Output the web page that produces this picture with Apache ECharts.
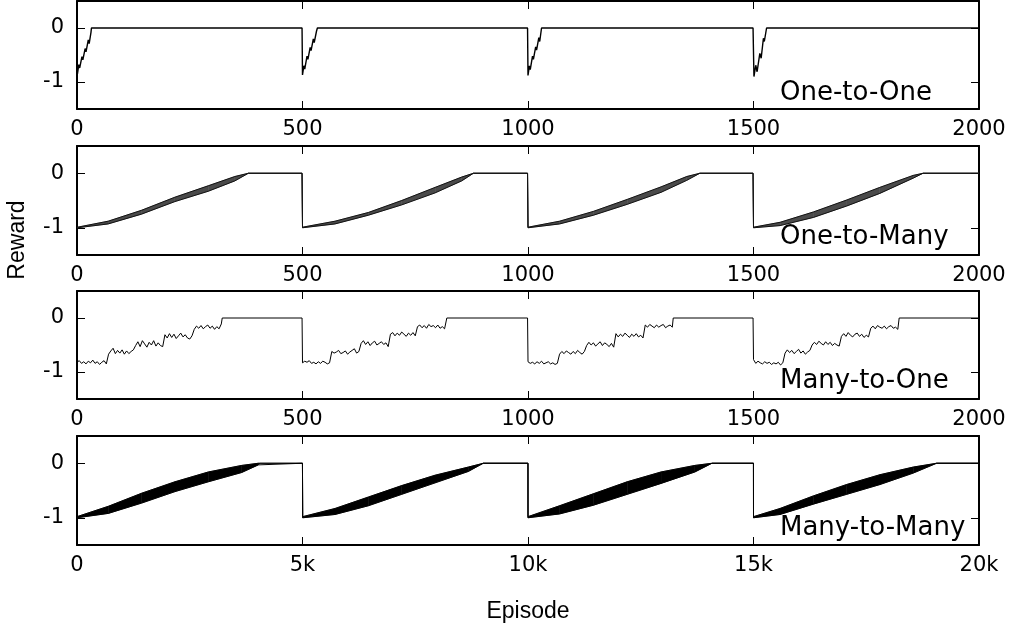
<!DOCTYPE html>
<html>
<head>
<meta charset="utf-8">
<style>
  html, body { margin: 0; padding: 0; background: #fff; }
  #chart { width: 1014px; height: 636px; }
</style>
<script src="https://cdn.jsdelivr.net/npm/echarts@6/dist/echarts.min.js"></script>
</head>
<body>
<div id="chart"></div>
<script>
// panel labels
const panelNames = ["One-to-One", "One-to-Many", "Many-to-One", "Many-to-Many"];

// One-to-One: [episode, reward] per 500-episode cycle
const o2oC1 = [[1,-0.85],[4,-0.68],[6,-0.74],[11,-0.53],[13,-0.59],[18,-0.38],[20,-0.44],[25,-0.22],[27,-0.29],[31,-0.08],[32,0],[499,0]];
const o2oC2 = [[500,-0.87],[503,-0.7],[505,-0.76],[510,-0.52],[512,-0.58],[517,-0.36],[519,-0.42],[524,-0.2],[526,-0.27],[531,-0.06],[533,0],[999,0]];
const o2oC3 = [[1000,-0.88],[1003,-0.7],[1005,-0.77],[1010,-0.52],[1012,-0.58],[1017,-0.35],[1019,-0.41],[1024,-0.18],[1026,-0.25],[1030,0],[1499,0]];
const o2oC4 = [[1501,-0.9],[1505,-0.69],[1508,-0.81],[1514,-0.47],[1517,-0.56],[1522,-0.19],[1524,-0.25],[1529,0],[2000,0]];

// One-to-Many: [episode, low edge, high edge] of the oscillating band
const o2mC1 = [[1,-1.0,-0.99],[69,-0.93,-0.88],[143,-0.75,-0.68],[217,-0.52,-0.44],[291,-0.33,-0.23],[350,-0.14,-0.06],[380,0,0],[499,0,0]];
const o2mC2 = [[500,-1.0,-0.99],[572,-0.93,-0.88],[646,-0.77,-0.72],[720,-0.58,-0.5],[794,-0.36,-0.26],[853,-0.14,-0.07],[879,0,0],[999,0,0]];
const o2mC3 = [[1000,-1.0,-0.99],[1070,-0.93,-0.88],[1145,-0.77,-0.7],[1220,-0.57,-0.48],[1295,-0.35,-0.25],[1352,-0.13,-0.06],[1381,0,0],[1499,0,0]];
const o2mC4 = [[1500,-1.0,-0.99],[1559,-0.96,-0.9],[1633,-0.81,-0.71],[1707,-0.6,-0.49],[1780,-0.37,-0.26],[1854,-0.09,-0.04],[1876,0,0],[2000,0,0]];

// Many-to-One: rewards every 5 episodes from the cycle start, then flat 0
const m2oStep = 5;
const m2oStarts = [0, 500, 1000, 1500];
const m2oZeroAt = [322, 820, 1322, 1823];
const m2oC1 = [-0.82,-0.79,-0.84,-0.81,-0.85,-0.80,-0.83,-0.78,-0.84,-0.81,-0.86,-0.82,-0.79,-0.85,
  -0.67,-0.61,-0.56,-0.66,-0.60,-0.65,-0.59,-0.67,-0.61,-0.66,-0.62,-0.59,
  -0.51,-0.44,-0.53,-0.42,-0.48,-0.54,-0.45,-0.50,-0.42,-0.52,-0.46,-0.51,-0.53,
  -0.31,-0.37,-0.29,-0.36,-0.30,-0.38,-0.33,-0.28,-0.35,-0.31,-0.37,-0.39,-0.33,
  -0.21,-0.15,-0.19,-0.14,-0.20,-0.16,-0.13,-0.19,-0.15,-0.21,-0.16,-0.20,-0.11];
const m2oC2 = [-0.83,-0.80,-0.82,-0.79,-0.84,-0.82,-0.85,-0.81,-0.84,-0.80,-0.82,-0.85,-0.83,
  -0.62,-0.65,-0.63,-0.60,-0.66,-0.64,-0.61,-0.67,-0.63,-0.60,-0.57,-0.65,-0.62,
  -0.47,-0.42,-0.49,-0.44,-0.51,-0.46,-0.43,-0.50,-0.47,-0.44,-0.49,-0.46,-0.53,
  -0.30,-0.27,-0.33,-0.28,-0.32,-0.26,-0.30,-0.34,-0.28,-0.32,-0.27,-0.33,
  -0.16,-0.13,-0.18,-0.14,-0.19,-0.12,-0.16,-0.14,-0.18,-0.13,-0.19,-0.16,-0.20];
const m2oC3 = [-0.81,-0.84,-0.82,-0.85,-0.81,-0.84,-0.80,-0.85,-0.83,-0.81,-0.85,-0.83,-0.86,-0.84,
  -0.67,-0.62,-0.66,-0.61,-0.64,-0.67,-0.62,-0.66,-0.60,-0.64,-0.67,-0.62,
  -0.51,-0.45,-0.50,-0.46,-0.52,-0.48,-0.44,-0.51,-0.46,-0.49,-0.53,-0.47,-0.54,
  -0.29,-0.35,-0.30,-0.34,-0.28,-0.32,-0.36,-0.30,-0.34,-0.29,-0.35,-0.32,-0.37,
  -0.13,-0.17,-0.12,-0.15,-0.18,-0.13,-0.17,-0.14,-0.12,-0.18,-0.15,-0.13,-0.17];
const m2oC4 = [-0.77,-0.84,-0.80,-0.83,-0.85,-0.81,-0.84,-0.82,-0.86,-0.83,-0.85,-0.82,-0.87,-0.83,
  -0.65,-0.59,-0.64,-0.60,-0.66,-0.62,-0.58,-0.65,-0.61,-0.67,-0.63,-0.60,
  -0.50,-0.45,-0.49,-0.43,-0.47,-0.50,-0.44,-0.49,-0.45,-0.51,-0.47,-0.50,-0.52,
  -0.34,-0.29,-0.34,-0.27,-0.32,-0.35,-0.30,-0.28,-0.34,-0.30,-0.36,-0.32,-0.35,
  -0.19,-0.15,-0.20,-0.14,-0.17,-0.19,-0.15,-0.20,-0.16,-0.14,-0.19,-0.17,-0.21];

// Many-to-Many: [episode, low edge, high edge] of the dense band
const m2mC1 = [[0,-1.0,-0.98],[695,-0.92,-0.79],[1434,-0.73,-0.55],[2173,-0.52,-0.34],[2912,-0.34,-0.16],[3651,-0.17,-0.04],[4020,-0.03,0],[4060,0,0],[4999,0,0]];
const m2mC2 = [[5004,-1.0,-0.98],[5721,-0.94,-0.83],[6460,-0.78,-0.62],[7199,-0.57,-0.41],[7938,-0.36,-0.22],[8677,-0.15,-0.07],[9009,0,0],[9999,0,0]];
const m2mC3 = [[10000,-1.0,-0.98],[10700,-0.93,-0.78],[11450,-0.77,-0.56],[12200,-0.57,-0.34],[12950,-0.37,-0.16],[13700,-0.16,-0.04],[14080,0,0],[14999,0,0]];
const m2mC4 = [[15000,-1.0,-0.98],[15588,-0.94,-0.83],[16326,-0.75,-0.6],[17066,-0.57,-0.39],[17805,-0.39,-0.21],[18543,-0.18,-0.07],[19060,0,0],[20000,0,0]];

const FONT = "DejaVu Sans";
const grids = [
  { left: 77, right: 35, top: 1, height: 108 },
  { left: 77, right: 35, top: 146, height: 109 },
  { left: 77, right: 35, top: 291, height: 108 },
  { left: 77, right: 35, top: 436, height: 109 },
];
const xMax = [2000, 2000, 2000, 20000];
const xStep = [500, 500, 500, 5000];

function plainFormat(v) {
  return String(v);
}
function kFormat(v) {
  return v === 0 ? "0" : v / 1000 + "k";
}

const xAxes = [];
const yAxes = [];
grids.forEach((g, i) => {
  const base = {
    type: "value", gridIndex: i, min: 0, max: xMax[i], interval: xStep[i],
    axisLine: { show: true, onZero: false, lineStyle: { color: "#000", width: 2 } },
    axisTick: { show: true, inside: true, length: 8, lineStyle: { color: "#000", width: 1 } },
    splitLine: { show: false },
  };
  xAxes.push(Object.assign({}, base, {
    position: "bottom",
    axisLabel: { color: "#000", fontSize: 21, fontFamily: FONT, margin: 10,
      formatter: i === 3 ? kFormat : plainFormat },
  }));
  xAxes.push(Object.assign({}, base, { position: "top", axisLabel: { show: false } }));
  const ybase = {
    type: "value", gridIndex: i, min: -1.5, max: 0.5,
    axisLine: { show: true, onZero: false, lineStyle: { color: "#000", width: 2 } },
    axisTick: { show: true, inside: true, length: 8, customValues: [-1, 0], lineStyle: { color: "#000", width: 1 } },
    splitLine: { show: false },
  };
  yAxes.push(Object.assign({}, ybase, {
    position: "left",
    axisLabel: { color: "#000", fontSize: 21, fontFamily: FONT, margin: 13, customValues: [-1, 0] },
  }));
  yAxes.push(Object.assign({}, ybase, { position: "right", axisLabel: { show: false } }));
});

function lineSeries(i, data, color, width) {
  return {
    type: "line", xAxisIndex: i * 2, yAxisIndex: i * 2, data: data,
    symbol: "none", lineStyle: { color: color || "#000", width: width || 1 }, silent: true,
  };
}

// band = filled quads between low and high edge + both edge lines
function bandSeries(i, cycles, fill, edge) {
  const rows = [].concat(...cycles);
  const quads = [];
  for (let k = 0; k + 1 < rows.length; k++) {
    quads.push([rows[k][0], rows[k][1], rows[k][2], rows[k + 1][0], rows[k + 1][1], rows[k + 1][2]]);
  }
  return [
    {
      type: "custom", xAxisIndex: i * 2, yAxisIndex: i * 2, data: quads, silent: true,
      encode: { x: [0, 3], y: [1, 2, 4, 5] },
      renderItem: function (params, api) {
        const a = api.coord([api.value(0), api.value(1)]);
        const b = api.coord([api.value(3), api.value(4)]);
        const c = api.coord([api.value(3), api.value(5)]);
        const d = api.coord([api.value(0), api.value(2)]);
        return { type: "polygon", shape: { points: [a, b, c, d] }, style: { fill: fill, stroke: fill, lineWidth: 0.5 } };
      },
    },
    lineSeries(i, rows.map(r => [r[0], r[1]]), edge, 1),
    lineSeries(i, rows.map(r => [r[0], r[2]]), edge, 1),
  ];
}

const m2oCycles = [m2oC1, m2oC2, m2oC3, m2oC4];
const m2oData = [];
m2oCycles.forEach((vals, c) => {
  vals.forEach((v, k) => m2oData.push([m2oStarts[c] + k * m2oStep, v]));
  m2oData.push([m2oZeroAt[c], 0]);
  m2oData.push([c < 3 ? m2oStarts[c + 1] - 1 : 2000, 0]);
});

const series = [
  lineSeries(0, [].concat(o2oC1, o2oC2, o2oC3, o2oC4), "#000", 1.4),
  ...bandSeries(1, [o2mC1, o2mC2, o2mC3, o2mC4], "#4a4a4a", "#111"),
  lineSeries(2, m2oData),
  ...bandSeries(3, [m2mC1, m2mC2, m2mC3, m2mC4], "#000", "#000"),
];

const labelTops = [80, 224, 368, 515];
const graphic = panelNames.map((name, i) => ({
  type: "text", left: 780, top: labelTops[i],
  style: { text: name, font: "26px '" + FONT + "'", fill: "#000" },
}));
graphic.push({
  type: "text", x: 18, y: 240, rotation: Math.PI / 2,
  style: { text: "Reward", font: "23px 'Liberation Sans'", fill: "#000", align: "center", verticalAlign: "middle" },
});
graphic.push({
  type: "text", x: 528, y: 612,
  style: { text: "Episode", font: "23px 'Liberation Sans'", fill: "#000", align: "center", verticalAlign: "middle" },
});

const chart = echarts.init(document.getElementById("chart"));
chart.setOption({
  animation: false,
  backgroundColor: "#fff",
  grid: grids,
  xAxis: xAxes,
  yAxis: yAxes,
  series: series,
  graphic: graphic,
});
</script>
</body>
</html>
